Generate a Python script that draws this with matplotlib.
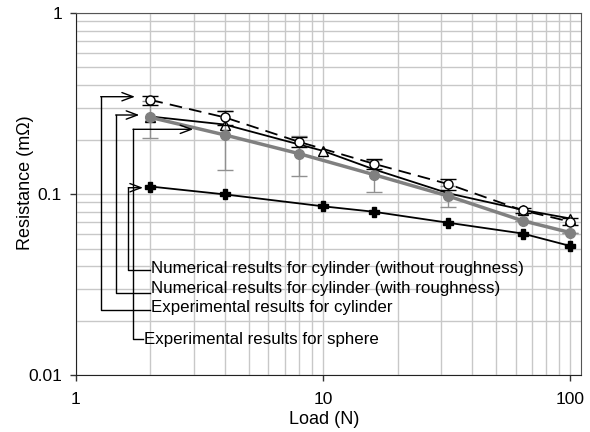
import numpy as np
import matplotlib
matplotlib.use('Agg')
import matplotlib.pyplot as plt
from matplotlib.ticker import FixedLocator, FixedFormatter, NullFormatter, LogLocator

plt.rcParams['font.family'] = ['Liberation Sans', 'DejaVu Sans']

# data
load_exp = [2, 4, 8, 16, 32, 64, 100]
exp_cyl = [0.331, 0.265, 0.194, 0.147, 0.1135, 0.0812, 0.0703]
exp_cyl_err = [0.019, 0.024, 0.012, 0.009, 0.008, 0.003, 0.003]

num_rough = [0.265, 0.212, 0.167, 0.128, 0.0975, 0.0712, 0.0612]
num_rough_err = [0.062, 0.076, 0.041, 0.026, 0.013, 0.0, 0.0]

load_num = [2, 4, 10, 16, 32, 64, 100]
num_smooth = [0.268, 0.242, 0.173, 0.137, 0.101, 0.0818, 0.0732]

load_sph = [2, 4, 10, 16, 32, 64, 100]
exp_sph = [0.110, 0.0995, 0.0855, 0.0798, 0.0694, 0.0605, 0.0516]

labels = ['Numerical results for cylinder (without roughness)',
          'Numerical results for cylinder (with roughness)',
          'Experimental results for cylinder',
          'Experimental results for sphere']

fig = plt.figure(figsize=(5.9, 4.32), dpi=100)
ax = fig.add_axes([0.1288, 0.1319, 0.8554, 0.838])

ax.set_xscale('log')
ax.set_yscale('log')
ax.set_xlim(1, 110)
ax.set_ylim(0.01, 1)

# grid
ax.xaxis.set_minor_locator(LogLocator(base=10, subs=np.arange(2, 10)))
ax.yaxis.set_minor_locator(LogLocator(base=10, subs=np.arange(2, 10)))
ax.xaxis.set_minor_formatter(NullFormatter())
ax.yaxis.set_minor_formatter(NullFormatter())
ax.grid(True, which='both', color='#c8c8c8', lw=1)
ax.set_axisbelow(True)

ax.xaxis.set_major_locator(FixedLocator([1, 10, 100]))
ax.xaxis.set_major_formatter(FixedFormatter(['1', '10', '100']))
ax.yaxis.set_major_locator(FixedLocator([0.01, 0.1, 1]))
ax.yaxis.set_major_formatter(FixedFormatter(['0.01', '0.1', '1']))
ax.tick_params(which='major', length=4, width=1, labelsize=12.5, color='#333333')
ax.tick_params(axis='x', which='major', pad=8)
ax.tick_params(axis='y', which='major', pad=6)
ax.tick_params(which='minor', length=0)
for s in ax.spines.values():
    s.set_color('#555555')
ax.spines['left'].set_color('#222222')
ax.spines['bottom'].set_color('#222222')

# series
ax.plot(load_num, num_smooth, '-^', color='black', mfc='white', mec='black',
        lw=1.3, ms=7, markevery=[0, 1, 2, 5, 6], zorder=3)
ax.errorbar(load_exp, num_rough, yerr=num_rough_err, fmt='none',
            ecolor='#909090', elinewidth=1, capsize=6, zorder=3.5)
ax.plot(load_exp, num_rough, '-o', color='#808080', lw=2.5, ms=7, zorder=4)
ax.plot(load_sph, exp_sph, '-P', color='black', lw=1.3, ms=7, zorder=4)
ax.errorbar(load_exp, exp_cyl, yerr=exp_cyl_err, fmt='none',
            ecolor='black', elinewidth=1, capsize=6, zorder=5)
ax.plot(load_exp, exp_cyl, '--o', color='black', mfc='white', mec='black',
        lw=1.3, ms=6.5, dashes=(7, 4), zorder=6)

# annotation leaders (pixel positions of the original, converted to axes fraction)
def fx(px):
    return (px - 76) / 504.7

def fy(py):
    return (375 - py) / 362

# (vertical x, arrow y, arrow tip x, text y, text x)
leaders = [
    (128.3, 187.7, 143.0, 270.0, 150.0),
    (115.7, 115.0, 139.3, 292.7, 150.0),
    (100.7, 96.7, 135.0, 310.0, 150.0),
    (133.0, 129.3, 193.3, 339.0, 143.5),
]
text_y = [268.5, 288.0, 307.7, 339.0]

for (vx, ay, tip, ty, tx), lab, tyy in zip(leaders, labels, text_y):
    ax.plot([fx(tx), fx(vx), fx(vx)], [fy(ty), fy(ty), fy(ay)],
            color='black', lw=1, transform=ax.transAxes, clip_on=False, zorder=7)
    ax.annotate('', xy=(fx(tip), fy(ay)), xytext=(fx(vx), fy(ay)),
                xycoords='axes fraction', textcoords='axes fraction',
                arrowprops=dict(arrowstyle='->,head_length=0.8,head_width=0.3',
                                color='black', lw=1, shrinkA=0, shrinkB=0),
                zorder=7)
    ax.text(fx(tx) + 0.002, fy(tyy), lab, transform=ax.transAxes,
            fontsize=12.2, va='center', ha='left', zorder=7)

fig.text(25 / 590, 1 - 183 / 432, 'Resistance (m\u03a9)', rotation=90,
         ha='center', va='center', fontsize=13)
fig.text(324 / 590, 1 - 420 / 432, 'Load (N)', ha='center', va='center',
         fontsize=13)

fig.savefig('out.png', dpi=100)
